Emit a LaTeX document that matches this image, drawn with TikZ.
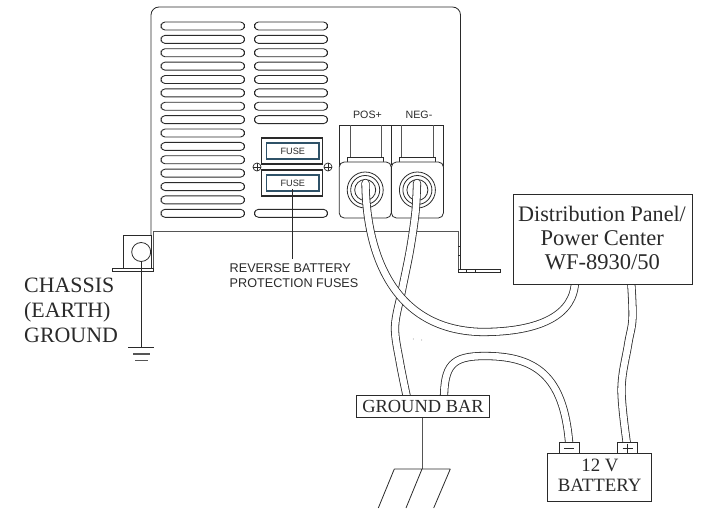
\documentclass[tikz,border=0pt]{standalone}
\usepackage{fontspec}
\setmainfont{Liberation Serif}
\setsansfont{Liberation Sans}
\definecolor{ink}{HTML}{2A2A2A}
\definecolor{grayline}{HTML}{555555}
\definecolor{fuseblue}{HTML}{2F5268}
\tikzset{
  ln/.style={draw=ink,line width=0.8bp},
  slot/.style={draw=ink,line width=0.9bp,rounded corners=4bp,fill=white},
  cable/.style={draw=ink,line width=0.8bp,double=white,double distance=6.6bp,line cap=round},
  sans/.style={font=\sffamily\fontsize{#1}{#1}\selectfont,inner sep=0pt,text=ink},
  serif/.style={font=\rmfamily\fontsize{#1}{#1}\selectfont,inner sep=0pt,text=ink},
  whitebox/.style={draw=ink,line width=1bp,fill=white,inner sep=0pt},
  fuseouter/.style={draw=ink,line width=1.2bp,fill=white,minimum width=61bp,minimum height=26bp,inner sep=0pt},
  fuseinner/.style={draw=fuseblue,line width=1.4bp,fill=white,minimum width=52.5bp,minimum height=16bp,inner sep=0pt},
  screw/.style={draw=ink,line width=0.7bp,circle,minimum size=8bp,inner sep=0pt},
  post/.style={draw=ink,line width=0.8bp,fill=white,rounded corners=5bp,minimum width=52bp,minimum height=56bp,inner sep=0pt}
}
\begin{document}
\begin{tikzpicture}[x=1bp,y=-1bp]
\useasboundingbox (0,0) rectangle (701,509);
% chassis
\draw[ln,rounded corners=8bp] (151,236) -- (151,7) -- (460.5,7) -- (460.5,270);
\draw[draw=grayline,line width=1bp] (153,269) -- (153,231.5) -- (458,231.5) -- (458,270);
\draw[ln,fill=white] (112,268.5) rectangle (153.5,271.5);
\draw[ln,fill=white] (458,269.5) rectangle (500,272.5);
\draw[ln] (466,269.5) -- (466,272.5) (475,269.5) -- (475,272.5);
\draw[ln] (458,246) -- (460.5,246) (458,255) -- (460.5,255);
% vents
\foreach \k in {0,...,14}{
  \draw[slot] (161,{22+13.38*\k}) rectangle (244.5,{30+13.38*\k});
}
\foreach \k in {0,...,7,14}{
  \draw[slot] (254.5,{22+13.38*\k}) rectangle (327.5,{30+13.38*\k});
}
% fuses
\node[fuseouter] (fa) at (292.2,151) {};
\node[fuseouter] (fb) at (292.2,183) {};
\node[fuseinner,sans=9.2] (fua) at (292.8,151.2) {FUSE};
\node[fuseinner,sans=9.2] (fub) at (292.8,183.2) {FUSE};
\node[screw] (sa) at (257,167) {};
\node[screw] (sb) at (328,167) {};
\draw[ln,line width=0.6bp] (sa.north) -- (sa.south) (sa.west) -- (sa.east) (sb.north) -- (sb.south) (sb.west) -- (sb.east);
\node[sans=12.7,align=left,anchor=north west] (revlbl) at (229.5,263.5) {REVERSE BATTERY\\[2.4pt]PROTECTION FUSES};
\coordinate (fusetail) at (292.5,259);
\draw[ln] (292.5,189) -- (fusetail);
% terminals
\node[sans=10.7] (poslbl) at (367.5,115) {POS+};
\node[sans=10.7] (neglbl) at (419,115) {NEG-};
\draw[ln] (339.3,170) -- (339.3,125.3) -- (443.3,125.3) -- (443.3,170) (391.3,125.3) -- (391.3,165);
\draw[ln,draw=grayline] (350,125.3) -- (350,157) (381,125.3) -- (381,157) (401.7,125.3) -- (401.7,157) (433,125.3) -- (433,157);
\draw[ln,fill=white] (347.3,157) rectangle (383.3,163);
\draw[ln,fill=white] (399,157) rectangle (435.7,163);
\node[post] (pa) at (365.2,190) {};
\node[post] (pb) at (417.4,190) {};
\foreach \n/\c in {ca/pa,cb/pb}{
  \draw[ln] (\c) circle[radius=18] (\c) circle[radius=14.5] (\c) circle[radius=10.5];
}
% ground lug
\node[draw=ink,line width=0.8bp,minimum width=27.5bp,minimum height=33bp,inner sep=0pt] (lug) at (137.2,251.5) {};
\node[draw=ink,line width=0.8bp,fill=white,circle,minimum size=19bp,inner sep=0pt] (bolt) at (141.2,252) {};
\coordinate (gnd) at (141.2,347);
\draw[ln] (bolt.south) -- (gnd);
\draw[ln] (128,347) -- (154,347);
\draw[ln,draw=grayline,line width=1.1bp] (133,354) -- (150,354) (135,360.2) -- (148,360.2);
% cables
\coordinate (tb) at (417,183);
\coordinate (gb1) at (407.5,400);
\coordinate (ta) at (365.5,183);
\coordinate (pn1) at (575,280);
\coordinate (gb2) at (444,400);
\coordinate (bn) at (569.5,448);
\coordinate (pn2) at (631,280);
\coordinate (bp) at (627.5,448);
\draw[cable] plot[smooth,tension=.55] coordinates {(tb) (415.5,212) (410,250) (402,290) (395,327) (400,363) (gb1)};
\draw[cable] (ta) .. controls (366,240) and (385,330) .. (482,332) .. controls (540,332) and (575,315) .. (pn1);
\draw[cable] (gb2) .. controls (444,365) and (452,356) .. (485,356) .. controls (540,356) and (565,380) .. (bn);
\draw[cable] plot[smooth,tension=.6] coordinates {(pn2) (632.5,318) (628,345) (621.5,390) (bp)};
% boxes over cable ends
\node[whitebox,minimum width=179.4bp,minimum height=90bp] (panel) at (603,239.3) {};
\node[serif=22.2] (pl1) at (602,213.5) {Distribution Panel/};
\node[serif=22.6] (pl2) at (602.3,238) {Power Center};
\node[serif=22.6] (pl3) at (602.3,262) {WF-8930/50};
\node[whitebox,serif=18.5,minimum width=132.5bp,minimum height=21.5bp,draw=ink] (bar) at (423,406.3) {GROUND BAR};
\node[whitebox,minimum width=19.7bp,minimum height=10.5bp] (tneg) at (569.2,448) {};
\node[whitebox,minimum width=19.5bp,minimum height=10.5bp] (tpos) at (627.7,448) {};
\draw[ln] (564,448) -- (574,448);
\draw[ln] (622.5,448) -- (632.5,448) (627.5,443.5) -- (627.5,452.5);
\node[whitebox,minimum width=103.5bp,minimum height=48bp] (batt) at (599.4,477.2) {};
\node[serif=18.9] (bl1) at (600,465.5) {12 V};
\node[serif=18.9] (bl2) at (599.7,485.5) {BATTERY};
% ground rods
\coordinate (rodtop) at (422,469);
\draw[ln,draw=grayline] (bar.south -| rodtop) -- (rodtop);
\coordinate (rl) at (394.3,469);
\coordinate (rr) at (450.3,469);
\coordinate (el) at (378.3,508);
\coordinate (em) at (406,508);
\coordinate (er) at (433.7,508);
\draw[ln] (rl) -- (rr) (rl) -- (el) (rodtop) -- (em) (rr) -- (er);
% earth label
\node[serif=22,align=left,anchor=west] (earth) at (24,310) {CHASSIS\\[3pt](EARTH)\\[3pt]GROUND};
\fill[ink] (413.3,339) circle[radius=.4] (421.7,340) circle[radius=.4];
\end{tikzpicture}
\end{document}
